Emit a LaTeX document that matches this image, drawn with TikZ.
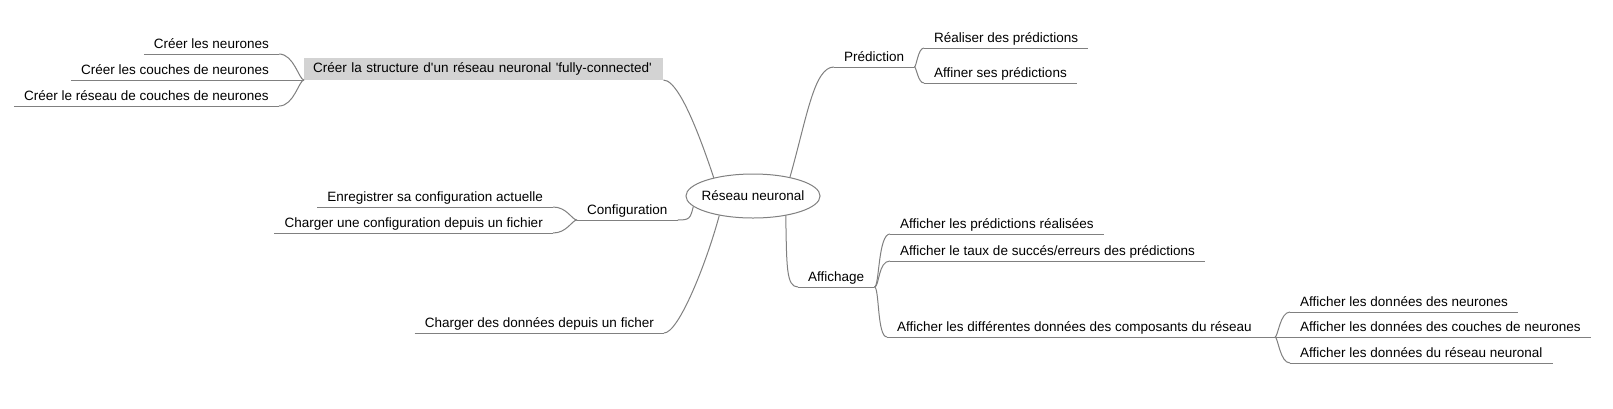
\documentclass[tikz,border=0pt]{standalone}
\usepackage{fontspec}
\setmainfont{Liberation Sans}
\usetikzlibrary{shapes.geometric}
\definecolor{edgegray}{RGB}{128,128,128}
\definecolor{boxgray}{RGB}{211,211,211}

\begin{document}
\begin{tikzpicture}[x=1pt,y=-1pt]
\tikzstyle{every node}=[font=\fontsize{13.5}{16}\selectfont]
\tikzstyle{topic}=[inner xsep=10pt, inner ysep=2pt, text height=10pt, text depth=3pt]
\tikzstyle{greybox}=[fill=boxgray, inner xsep=9pt, inner ysep=0pt, text width=341pt, align=left, minimum height=22pt, text height=10pt, text depth=3pt]
\tikzstyle{branch}=[draw=edgegray, line width=1pt]
\fill[white] (0,0) rectangle (1613,408);
\node[branch, ellipse, inner xsep=-4pt, inner ysep=0pt, minimum width=134pt, minimum height=44pt] (root) at (753,196) {Réseau neuronal};
\node[greybox, anchor=south west] (struct) at (304,80) {Créer la structure d\textquotesingle un réseau neuronal \textquotesingle fully-connected\textquotesingle};
\node[topic, anchor=south east] (cn) at (279,54) {Créer les neurones};
\node[topic, anchor=south east] (cc) at (279,80) {Créer les couches de neurones};
\node[topic, anchor=south east] (cr) at (279,106) {Créer le réseau de couches de neurones};
\node[topic, anchor=south west] (pred) at (834,67) {Prédiction};
\node[topic, anchor=south west] (real) at (924,48) {Réaliser des prédictions};
\node[topic, anchor=south west] (affin) at (924,83) {Affiner ses prédictions};
\node[topic, anchor=south west] (config) at (577,220) {Configuration};
\node[topic, anchor=south east] (enreg) at (553,207) {Enregistrer sa configuration actuelle};
\node[topic, anchor=south east] (chconf) at (553,233) {Charger une configuration depuis un fichier};
\node[topic, anchor=south east] (chdon) at (664,333) {Charger des données depuis un ficher};
\node[topic, anchor=south west] (affi) at (798,287) {Affichage};
\node[topic, anchor=south west] (apred) at (890,234) {Afficher les prédictions réalisées};
\node[topic, anchor=south west] (ataux) at (890,261) {Afficher le taux de succés/erreurs des prédictions};
\node[topic, anchor=south west] (acomp) at (887,337) {Afficher les différentes données des composants du réseau};
\coordinate (acj) at (1275,337);
\node[topic, anchor=south west] (dneur) at (1290,312) {Afficher les données des neurones};
\node[topic, anchor=south west] (dcouch) at (1290,337) {Afficher les données des couches de neurones};
\node[topic, anchor=south west] (dres) at (1290,363) {Afficher les données du réseau neuronal};
\foreach \n in {cn,cc,cr,pred,real,affin,config,enreg,chconf,chdon,affi,apred,ataux,acomp,dneur,dcouch,dres}
  \draw[branch] (\n.south west) -- (\n.south east);
\draw[branch] (root.155) .. controls +(-25,-75) and +(10,0) .. (struct.south east);
\draw[branch] (struct.south west) .. controls +(-5,0) and +(15,0) .. (cn.south east);
\draw[branch] (struct.south west) -- (cc.south east);
\draw[branch] (struct.south west) .. controls +(-5,0) and +(15,0) .. (cr.south east);
\draw[branch] (root.27) .. controls +(17,-60) and +(-20,0) .. (pred.south west);
\draw[branch] (pred.south east) .. controls +(2,0) and +(-6,0) .. (real.south west);
\draw[branch] (pred.south east) .. controls +(2,0) and +(-6,0) .. (affin.south west);
\draw[branch] (root.190) .. controls +(-3,12) and +(12,0) .. (config.south east);
\draw[branch] (config.south west) .. controls +(-5,0) and +(14,0) .. (enreg.south east);
\draw[branch] (config.south west) .. controls +(-5,0) and +(14,0) .. (chconf.south east);
\draw[branch] (root.210) .. controls +(-12,45) and +(15,0) .. (chdon.south east);
\draw[branch] (root.329) .. controls +(1,50) and +(-12,0) .. (affi.south west);
\draw[branch] (affi.south east) .. controls +(5,0) and +(-12,0) .. (apred.south west);
\draw[branch] (affi.south east) .. controls +(5,0) and +(-12,0) .. (ataux.south west);
\draw[branch] (affi.south east) .. controls +(5,0) and +(-10,0) .. (acomp.south west);
\draw[branch] (acomp.south east) -- (dcouch.south west);
\draw[branch] (acj) .. controls +(3,0) and +(-10,0) .. (dneur.south west);
\draw[branch] (acj) .. controls +(3,0) and +(-10,0) .. (dres.south west);
\end{tikzpicture}
\end{document}
